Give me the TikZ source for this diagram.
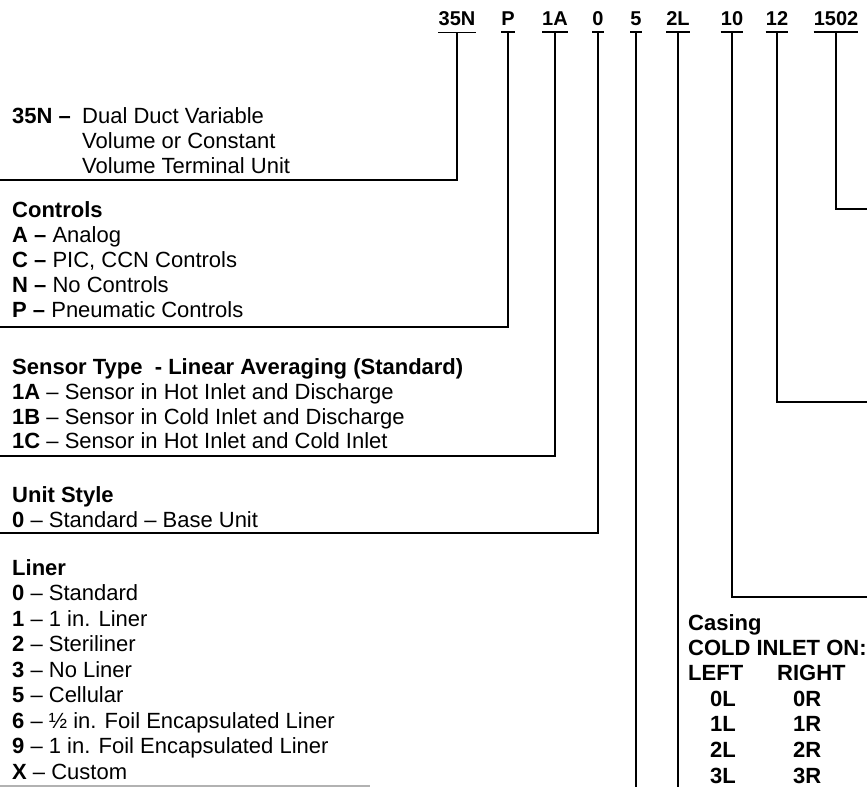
\documentclass[tikz,border=0pt]{standalone}
\usepackage{fontspec}
\setmainfont{Liberation Sans}
\begin{document}
\begin{tikzpicture}[x=1pt,y=-1pt,
  conn/.style={line width=1.8pt},
  faint/.style={line width=1.2pt, black!30},
  code/.style={font=\bfseries\fontsize{20}{24}\selectfont, inner xsep=0pt, inner ysep=7pt, anchor=base},
  txt/.style={font=\fontsize{22}{25}\selectfont, inner sep=0pt, anchor=base west},
  btxt/.style={txt, font=\bfseries\fontsize{22}{25}\selectfont},
]
\useasboundingbox (0,0) rectangle (867,787);

% --- code letters across the top
\node[code] (c1) at (457,25) {35N};
\node[code] (c2) at (508,25) {P};
\node[code] (c3) at (555,25) {1A};
\node[code] (c4) at (598,25) {0};
\node[code] (c5) at (636,25) {5};
\node[code] (c6) at (678,25) {2L};
\node[code] (c7) at (732,25) {10};
\node[code] (c8) at (777,25) {12};
\node[code] (c9) at (836,25) {1502};
\foreach \c in {c1,c2,c3,c4,c5,c6,c7,c8,c9}
  \draw[conn] (\c.south west) -- (\c.south east);

% --- ends of the connectors
\coordinate (e1) at (0,180);
\coordinate (e2) at (0,327);
\coordinate (e3) at (0,456);
\coordinate (e4) at (0,533);
\coordinate (e5) at (0,787);
\coordinate (e6) at (0,787);
\coordinate (e7) at (867,597);
\coordinate (e8) at (867,402);
\coordinate (e9) at (867,209);

\draw[conn] (c1.south) |- (e1);
\draw[conn] (c2.south) |- (e2);
\draw[conn] (c3.south) |- (e3);
\draw[conn] (c4.south) |- (e4);
\draw[conn] (c5.south) -- (c5.south |- e5);
\draw[conn] (c6.south) -- (c6.south |- e6);
\draw[conn] (c7.south) |- (e7);
\draw[conn] (c8.south) |- (e8);
\draw[conn] (c9.south) |- (e9);
\coordinate (f1) at (0,786);
\coordinate (f2) at (370,786);
\draw[faint] (f1) -- (f2);

% --- 35N
\node[btxt] (t10) at (12,123) {35N --};
\node[txt] (t11) at (82,123) {Dual Duct Variable};
\node[txt] (t12) at (82,148) {Volume or Constant};
\node[txt] (t13) at (82,173) {Volume Terminal Unit};

% --- Controls
\node[btxt] (t20) at (12,217) {Controls};
\node[txt] (t21) at (12,242) {\textbf{A --} Analog};
\node[txt] (t22) at (12,267) {\textbf{C --} PIC, CCN Controls};
\node[txt] (t23) at (12,292) {\textbf{N --} No Controls};
\node[txt] (t24) at (12,317) {\textbf{P --} Pneumatic Controls};

% --- Sensor type
\node[btxt] (t30) at (12,374) {Sensor Type\ \ - Linear Averaging (Standard)};
\node[txt] (t31) at (12,399) {\textbf{1A} -- Sensor in Hot Inlet and Discharge};
\node[txt] (t32) at (12,424) {\textbf{1B} -- Sensor in Cold Inlet and Discharge};
\node[txt] (t33) at (12,448) {\textbf{1C} -- Sensor in Hot Inlet and Cold Inlet};

% --- Unit style
\node[btxt] (t40) at (12,502) {Unit Style};
\node[txt] (t41) at (12,527) {\textbf{0} -- Standard -- Base Unit};

% --- Liner
\node[btxt] (t50) at (12,575) {Liner};
\node[txt] (t51) at (12,600.5) {\textbf{0} -- Standard};
\node[txt] (t52) at (12,626) {\textbf{1} -- 1 in. Liner};
\node[txt] (t53) at (12,651.5) {\textbf{2} -- Steriliner};
\node[txt] (t54) at (12,677) {\textbf{3} -- No Liner};
\node[txt] (t55) at (12,702.5) {\textbf{5} -- Cellular};
\node[txt] (t56) at (12,728) {\textbf{6} -- ½ in. Foil Encapsulated Liner};
\node[txt] (t57) at (12,753.5) {\textbf{9} -- 1 in. Foil Encapsulated Liner};
\node[txt] (t58) at (12,779) {\textbf{X} -- Custom};

% --- Casing
\node[btxt] (t60) at (688,630) {Casing};
\node[btxt] (t61) at (688,655) {COLD INLET ON:};
\node[btxt] (t62) at (688,680) {LEFT};
\node[btxt] (t63) at (777,680) {RIGHT};
\node[btxt] (t64) at (710,706) {0L};
\node[btxt] (t65) at (793,706) {0R};
\node[btxt] (t66) at (710,731) {1L};
\node[btxt] (t67) at (793,731) {1R};
\node[btxt] (t68) at (710,757) {2L};
\node[btxt] (t69) at (793,757) {2R};
\node[btxt] (t6a) at (710,783) {3L};
\node[btxt] (t6b) at (793,783) {3R};
\end{tikzpicture}
\end{document}
